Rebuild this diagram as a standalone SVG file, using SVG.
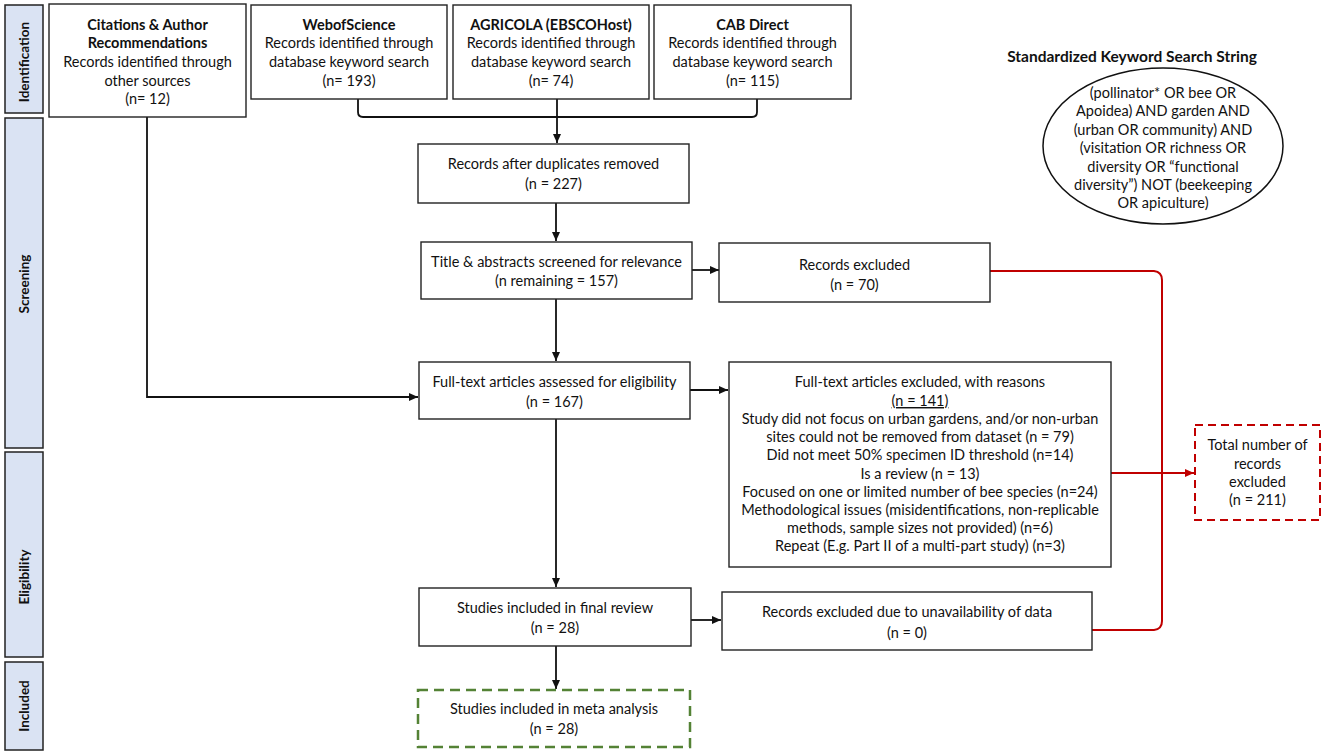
<svg xmlns="http://www.w3.org/2000/svg" width="1325" height="754" viewBox="0 0 1325 754">
<defs>
<style>
text{font-family:Lato,"Liberation Sans",sans-serif;font-size:14.5px;fill:#111;text-anchor:middle}
.b{font-weight:bold}
.lab{font-weight:bold;font-size:13.5px}
.box{fill:#fff;stroke:#222;stroke-width:1.4}
.side{fill:#dae3f3;stroke:#222;stroke-width:1.5}
.ln{fill:none;stroke:#111;stroke-width:1.8}
.red{fill:none;stroke:#c00000;stroke-width:2}
</style>
<marker id="ah" markerWidth="10" markerHeight="10" refX="9" refY="5" orient="auto" markerUnits="userSpaceOnUse"><path d="M0,1 L9,5 L0,9 Z" fill="#111"/></marker>
<marker id="ahr" markerWidth="10" markerHeight="10" refX="9" refY="5" orient="auto" markerUnits="userSpaceOnUse"><path d="M0,1 L9,5 L0,9 Z" fill="#c00000"/></marker>
</defs>
<rect width="1325" height="754" fill="#fff"/>

<g id="lab-identification"><rect class="side" x="5" y="5" width="38" height="108"/><text class="lab" transform="translate(29,62) rotate(-90)">Identification</text></g>
<g id="lab-screening"><rect class="side" x="5" y="118" width="38" height="330"/><text class="lab" transform="translate(29,284) rotate(-90)">Screening</text></g>
<g id="lab-eligibility"><rect class="side" x="5" y="452" width="38" height="205"/><text class="lab" transform="translate(29,577) rotate(-90)">Eligibility</text></g>
<g id="lab-included"><rect class="side" x="5" y="662" width="38" height="88"/><text class="lab" transform="translate(29,706) rotate(-90)">Included</text></g>

<g id="connectors">
<path class="ln" d="M358,99 V112 Q358,117 363,117 H752 Q757,117 757,112 V99"/>
<path class="ln" d="M557,99 V143" marker-end="url(#ah)"/>
<path class="ln" d="M556,203 V241" marker-end="url(#ah)"/>
<path class="ln" d="M692,270 H719" marker-end="url(#ah)"/>
<path class="ln" d="M556,299 V361" marker-end="url(#ah)"/>
<path class="ln" d="M147,117 V397 H418" marker-end="url(#ah)"/>
<path class="ln" d="M690,390 H728" marker-end="url(#ah)"/>
<path class="ln" d="M556,419 V587" marker-end="url(#ah)"/>
<path class="ln" d="M691,620 H721" marker-end="url(#ah)"/>
<path class="ln" d="M556,646 V689" marker-end="url(#ah)"/>
<path class="red" d="M990,271 H1154 Q1162,272 1162,280 V621 Q1162,629 1154,630 H1092"/>
<path class="red" d="M1111,473 H1194" marker-end="url(#ahr)"/>
</g>

<g id="citations"><rect class="box" x="49" y="4" width="197" height="113"/>
<text class="b" x="147.5" y="30">Citations &amp; Author</text>
<text class="b" x="147.5" y="48">Recommendations</text>
<text x="147.5" y="67">Records identified through</text>
<text x="147.5" y="86">other sources</text>
<text x="147.5" y="104">(n= 12)</text></g>

<g id="webofscience"><rect class="box" x="251" y="5" width="196" height="94"/>
<text class="b" x="349" y="30">WebofScience</text>
<text x="349" y="48">Records identified through</text>
<text x="349" y="67">database keyword search</text>
<text x="349" y="86">(n= 193)</text></g>

<g id="agricola"><rect class="box" x="453" y="5" width="196" height="94"/>
<text class="b" x="551" y="30">AGRICOLA (EBSCOHost)</text>
<text x="551" y="48">Records identified through</text>
<text x="551" y="67">database keyword search</text>
<text x="551" y="86">(n= 74)</text></g>

<g id="cabdirect"><rect class="box" x="654" y="5" width="197" height="94"/>
<text class="b" x="752.5" y="30">CAB Direct</text>
<text x="752.5" y="48">Records identified through</text>
<text x="752.5" y="67">database keyword search</text>
<text x="752.5" y="86">(n= 115)</text></g>

<g id="keyword"><text class="b" x="1132" y="62" style="font-size:15.5px">Standardized Keyword Search String</text>
<ellipse cx="1163" cy="146" rx="120" ry="78" fill="#fff" stroke="#111" stroke-width="1.5"/>
<text x="1163" y="98">(pollinator* OR bee OR</text>
<text x="1163" y="116">Apoidea) AND garden AND</text>
<text x="1163" y="135">(urban OR community) AND</text>
<text x="1163" y="153">(visitation OR richness OR</text>
<text x="1163" y="172">diversity OR “functional</text>
<text x="1163" y="190">diversity”) NOT (beekeeping</text>
<text x="1163" y="208">OR apiculture)</text></g>

<g id="duplicates"><rect class="box" x="418" y="144" width="271" height="59"/>
<text x="553.5" y="169">Records after duplicates removed</text>
<text x="553.5" y="189">(n = 227)</text></g>

<g id="screened"><rect class="box" x="421" y="242" width="271" height="57"/>
<text x="556.5" y="267">Title &amp; abstracts screened for relevance</text>
<text x="556.5" y="286">(n remaining = 157)</text></g>

<g id="excluded70"><rect class="box" x="719" y="243" width="271" height="59"/>
<text x="854.5" y="270">Records excluded</text>
<text x="854.5" y="290">(n = 70)</text></g>

<g id="assessed"><rect class="box" x="419" y="362" width="271" height="57"/>
<text x="554.5" y="387">Full-text articles assessed for eligibility</text>
<text x="554.5" y="407">(n = 167)</text></g>

<g id="excluded141"><rect class="box" x="729" y="362" width="382" height="205"/>
<text x="920" y="387">Full-text articles excluded, with reasons</text>
<text x="920" y="406" text-decoration="underline">(n = 141)</text>
<text x="920" y="424">Study did not focus on urban gardens, and/or non-urban</text>
<text x="920" y="442">sites could not be removed from dataset (n = 79)</text>
<text x="920" y="460">Did not meet 50% specimen ID threshold (n=14)</text>
<text x="920" y="479">Is a review (n = 13)</text>
<text x="920" y="497">Focused on one or limited number of bee species (n=24)</text>
<text x="920" y="515">Methodological issues (misidentifications, non-replicable</text>
<text x="920" y="533">methods, sample sizes not provided) (n=6)</text>
<text x="920" y="551">Repeat (E.g. Part II of a multi-part study) (n=3)</text></g>

<g id="finalreview"><rect class="box" x="419" y="588" width="272" height="58"/>
<text x="555" y="613">Studies included in final review</text>
<text x="555" y="633">(n = 28)</text></g>

<g id="excluded0"><rect class="box" x="722" y="592" width="370" height="58"/>
<text x="907" y="617">Records excluded due to unavailability of data</text>
<text x="907" y="638">(n = 0)</text></g>

<g id="meta"><rect x="418" y="690" width="272" height="57" fill="#fff" stroke="#548235" stroke-width="2.5" stroke-dasharray="10,6"/>
<text x="554" y="714">Studies included in meta analysis</text>
<text x="554" y="734">(n = 28)</text></g>

<g id="total"><rect x="1195" y="425" width="125" height="95" fill="#fff" stroke="#c00000" stroke-width="2" stroke-dasharray="8,5"/>
<text x="1257.5" y="450">Total number of</text>
<text x="1257.5" y="469">records</text>
<text x="1257.5" y="487">excluded</text>
<text x="1257.5" y="505">(n = 211)</text></g>
</svg>
